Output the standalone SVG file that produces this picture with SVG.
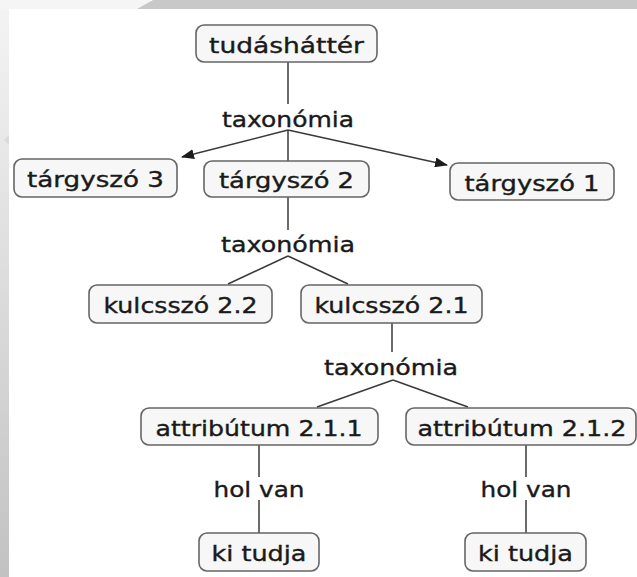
<svg xmlns="http://www.w3.org/2000/svg" width="637" height="577" viewBox="0 0 637 577">
  <defs>
    <linearGradient id="sideBand" x1="0" y1="0" x2="0" y2="1">
      <stop offset="0" stop-color="#f4f4f4"/>
      <stop offset="0.5" stop-color="#dcdcdc"/>
      <stop offset="1" stop-color="#c2c2c2"/>
    </linearGradient>
    <marker id="arrow" viewBox="0 0 13 10" refX="12" refY="5" markerWidth="13" markerHeight="10" markerUnits="userSpaceOnUse" orient="auto">
      <path d="M0,0 L13,5 L0,10 Z" fill="#1c1c1c"/>
    </marker>
    <style>
      .node rect { fill: #f7f7f7; stroke: #666; stroke-width: 1.6; }
      .node text, .label { font-family: "DejaVu Sans", Verdana, sans-serif; font-size: 20.5px; fill: #1a1a1a; stroke: #1a1a1a; stroke-width: 0.35; text-anchor: middle; }
      #connectors path { fill: none; stroke: #3a3a3a; stroke-width: 1.5; }
    </style>
  </defs>

  <!-- page background with window frame bands -->
  <rect x="0" y="0" width="637" height="577" fill="#ffffff"/>
  <rect x="0" y="0" width="9" height="577" fill="url(#sideBand)"/>
  <rect x="0" y="0" width="150" height="9" fill="#f5f5f5"/>
  <polygon points="137,9 153,0 637,0 637,9" fill="#c8c8c8"/>
  <polygon points="4,140 9,135 9,145" fill="#dadada"/>

  <!-- connectors -->
  <g id="connectors">
    <path d="M288,62 L288,104"/>
    <path d="M288,130 L288,161"/>
    <path d="M288,130 L182,157" marker-end="url(#arrow)"/>
    <path d="M288,130 L447,165" marker-end="url(#arrow)"/>
    <path d="M288,197 L288,230"/>
    <path d="M288,256 L228,284"/>
    <path d="M288,256 L348,284"/>
    <path d="M392,323 L392,352"/>
    <path d="M393,380 L317,407"/>
    <path d="M393,380 L468,407"/>
    <path d="M259,445 L259,477"/>
    <path d="M259,500 L259,533"/>
    <path d="M526,445 L526,477"/>
    <path d="M526,500 L526,533"/>
  </g>

  <!-- relation labels -->
  <g id="labels">
    <text class="label" x="288" y="127" textLength="132" lengthAdjust="spacingAndGlyphs">taxonómia</text>
    <text class="label" x="288" y="252" textLength="134" lengthAdjust="spacingAndGlyphs">taxonómia</text>
    <text class="label" x="391" y="375" textLength="134" lengthAdjust="spacingAndGlyphs">taxonómia</text>
    <text class="label" x="259" y="497" textLength="91" lengthAdjust="spacingAndGlyphs">hol van</text>
    <text class="label" x="526" y="497" textLength="91" lengthAdjust="spacingAndGlyphs">hol van</text>
  </g>

  <!-- concept nodes -->
  <g id="tudashatter" class="node">
    <rect x="196" y="25" width="181" height="37" rx="8"/>
    <text x="286.5" y="53" textLength="155" lengthAdjust="spacingAndGlyphs">tudásháttér</text>
  </g>
  <g id="targyszo3" class="node">
    <rect x="14" y="159" width="163" height="38" rx="8"/>
    <text x="95.5" y="186.5" textLength="137" lengthAdjust="spacingAndGlyphs">tárgyszó 3</text>
  </g>
  <g id="targyszo2" class="node">
    <rect x="204" y="161" width="165" height="36" rx="8"/>
    <text x="286.5" y="188" textLength="135" lengthAdjust="spacingAndGlyphs">tárgyszó 2</text>
  </g>
  <g id="targyszo1" class="node">
    <rect x="450" y="163" width="164" height="37" rx="8"/>
    <text x="532" y="190.5" textLength="135" lengthAdjust="spacingAndGlyphs">tárgyszó 1</text>
  </g>
  <g id="kulcsszo22" class="node">
    <rect x="89" y="285" width="183" height="38" rx="8"/>
    <text x="180.5" y="312.5" textLength="154" lengthAdjust="spacingAndGlyphs">kulcsszó 2.2</text>
  </g>
  <g id="kulcsszo21" class="node">
    <rect x="301" y="285" width="181" height="38" rx="8"/>
    <text x="391.5" y="312.5" textLength="154" lengthAdjust="spacingAndGlyphs">kulcsszó 2.1</text>
  </g>
  <g id="attributum211" class="node">
    <rect x="141" y="408" width="237" height="37" rx="8"/>
    <text x="259" y="435.5" textLength="207" lengthAdjust="spacingAndGlyphs">attribútum 2.1.1</text>
  </g>
  <g id="attributum212" class="node">
    <rect x="406" y="408" width="230" height="37" rx="8"/>
    <text x="522" y="435.5" textLength="209" lengthAdjust="spacingAndGlyphs">attribútum 2.1.2</text>
  </g>
  <g id="kitudja1" class="node">
    <rect x="199" y="533" width="120" height="38" rx="8"/>
    <text x="259" y="560.5" textLength="95" lengthAdjust="spacingAndGlyphs">ki tudja</text>
  </g>
  <g id="kitudja2" class="node">
    <rect x="465" y="533" width="121" height="38" rx="8"/>
    <text x="525.5" y="560.5" textLength="95" lengthAdjust="spacingAndGlyphs">ki tudja</text>
  </g>
</svg>
